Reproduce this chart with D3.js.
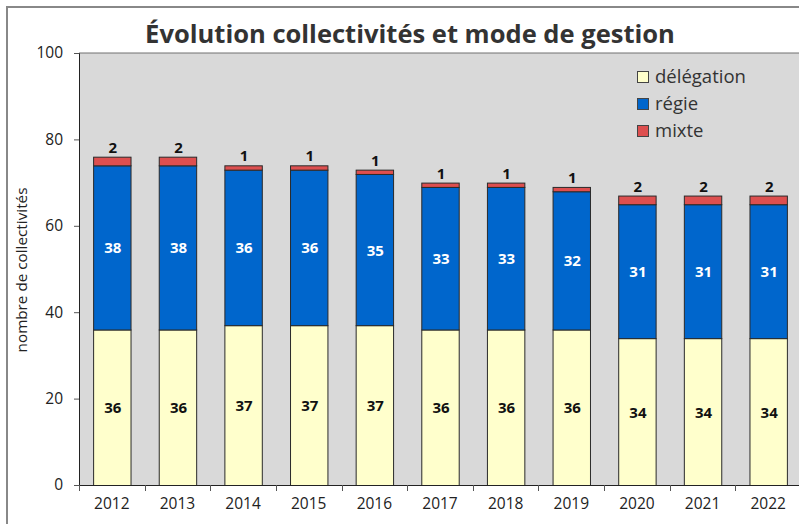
<!DOCTYPE html>
<html><head><meta charset="utf-8">
<script src="https://cdn.jsdelivr.net/npm/d3@7"></script>
<style>body{margin:0;background:#fff;}svg{display:block;}</style>
</head><body>
<script>
const years = ["2012","2013","2014","2015","2016","2017","2018","2019","2020","2021","2022"];
const delegation = [36,36,37,37,37,36,36,36,34,34,34];
const regie = [38,38,36,36,35,33,33,32,31,31,31];
const mixte = [2,2,1,1,1,1,1,1,2,2,2];
const seriesNames = ["délégation","régie","mixte"];
const yTicks = [0,20,40,60,80,100];
const titleText = "Évolution collectivités et mode de gestion";
const yTitle = "nombre de collectivités";

const W = 799, H = 524;
const colors = {"délégation":"#FFFFCC","régie":"#0066CC","mixte":"#DD4F4F"};
const font = "'Open Sans', sans-serif";

const svg = d3.select("body").append("svg").attr("width",W).attr("height",H);
svg.append("rect").attr("width",W).attr("height",H).attr("fill","#fff");
svg.append("rect").attr("x",7).attr("y",7).attr("width",W+20).attr("height",H+20)
  .attr("fill","none").attr("stroke","#888").attr("stroke-width",2);

const L=79, R=801, T=53, B=485;
const x = d3.scaleBand().domain(years).range([L,R]).paddingInner(0.43).paddingOuter(0.215);
const xb = d3.scaleBand().domain(years).range([L,R]);
const y = d3.scaleLinear().domain([0,100]).range([B,T]);

svg.append("rect").attr("x",L).attr("y",T).attr("width",R-L).attr("height",B-T).attr("fill","#D9D9D9");
svg.append("line").attr("x1",L).attr("x2",R).attr("y1",T).attr("y2",T).attr("stroke","#707070").attr("stroke-width",1);

const table = years.map((yr,i)=>({year:yr,"délégation":delegation[i],"régie":regie[i],"mixte":mixte[i]}));
const stack = d3.stack().keys(seriesNames)(table);

const g = svg.append("g");
stack.forEach(layer=>{
  g.selectAll(null).data(layer).enter().append("rect")
    .attr("x",d=>x(d.data.year)+0.5)
    .attr("y",d=>y(d[1])+0.5)
    .attr("width",x.bandwidth())
    .attr("height",d=>y(d[0])-y(d[1]))
    .attr("fill",colors[layer.key])
    .attr("stroke","#2a2a2a").attr("stroke-width",1);
});

stack.forEach(layer=>{
  g.selectAll(null).data(layer).enter().append("text")
    .attr("x",d=>x(d.data.year)+x.bandwidth()/2+1)
    .attr("y",d=> layer.key==="mixte" ? y(d[1])-4 : (y(d[0])+y(d[1]))/2+6)
    .attr("text-anchor","middle")
    .attr("font-family",font).attr("font-weight","bold").attr("font-size",15)
    .attr("fill", layer.key==="régie" ? "#fff" : "#111")
    .text(d=>d.data[layer.key]);
});

const ya = svg.append("g").attr("transform",`translate(${L},0)`)
  .call(d3.axisLeft(y).tickValues(yTicks).tickSize(5).tickPadding(11));
ya.select(".domain").attr("stroke","#222");
ya.selectAll(".tick line").attr("stroke","#555");
ya.selectAll("text").attr("font-family",font).attr("font-size",15.5).attr("fill","#222");

const xa = svg.append("g").attr("transform",`translate(0,${B})`)
  .call(d3.axisBottom(xb).tickSize(0).tickPadding(13));
xa.select(".domain").attr("stroke","#222");
xa.selectAll("text").attr("font-family",font).attr("font-size",15.5).attr("fill","#222");
svg.append("g").selectAll(null).data(years).enter().append("line")
  .attr("x1",d=>Math.round(xb(d))+0.5).attr("x2",d=>Math.round(xb(d))+0.5)
  .attr("y1",B).attr("y2",B+6).attr("stroke","#555");

function fit(sel, size, target){
  sel.attr("font-size", size);
  const w = sel.node().getComputedTextLength();
  sel.attr("font-size", size*target/w);
}

const yt = svg.append("text").attr("transform","translate(27,270) rotate(-90)")
  .attr("text-anchor","middle").attr("font-family",font).attr("fill","#222")
  .text(yTitle);
fit(yt, 14, 165);

const tt = svg.append("text").attr("x",410).attr("y",43).attr("text-anchor","middle")
  .attr("font-family",font).attr("font-weight","bold").attr("fill","#333")
  .text(titleText);
fit(tt, 26, 530);

const lg = svg.append("g");
seriesNames.forEach((s,i)=>{
  const cy = 77 + i*27;
  lg.append("rect").attr("x",637.5).attr("y",cy-5.5).attr("width",11).attr("height",11)
    .attr("fill",colors[s]).attr("stroke","#444").attr("stroke-width",1);
  const t = lg.append("text").attr("x",655).attr("y",cy+6).attr("font-family",font)
    .attr("fill","#333").text(s);
  if(i===0) fit(t, 17, 91); else t.attr("font-size", 18.5);
});
</script>
</body></html>
